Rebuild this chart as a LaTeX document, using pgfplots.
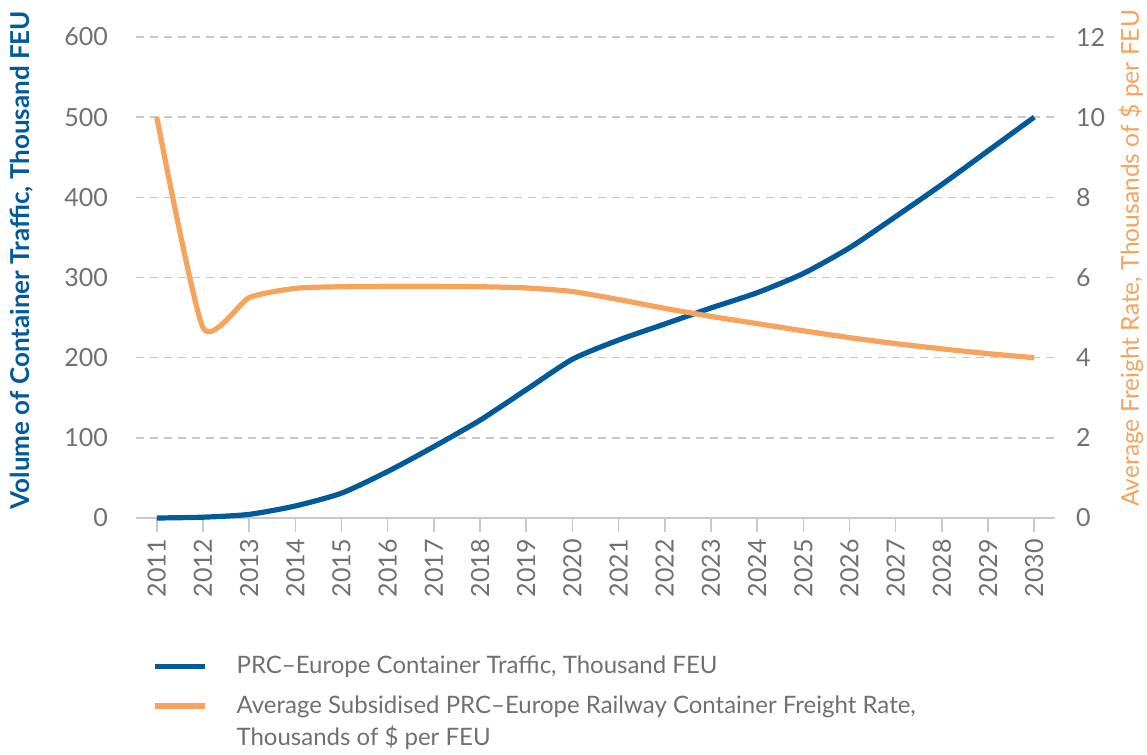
\documentclass[border=0pt]{standalone}
\usepackage{pgfplots}
\pgfplotsset{compat=1.18}
\usepackage{fontspec}
\setmainfont{Lato}
\definecolor{cblue}{HTML}{005A9C}
\definecolor{corange}{HTML}{F7A35C}
\definecolor{tgray}{HTML}{707070}
\definecolor{ggray}{HTML}{C8C8C8}
\pgfplotsset{
  common/.style={
    scale only axis, width=459.5pt, height=240.5pt,
    xmin=2010.55, xmax=2030.45,
    tick align=outside, major tick length=7pt,
    /pgf/number format/assume math mode=true,
    ticklabel style={font=\fontsize{12.5}{14}\selectfont, text=tgray},
    ytick style={draw=none},
    clip=false,
  }
}
\begin{document}
\begin{tikzpicture}
\useasboundingbox (-68pt,-118.5pt) rectangle (505.5pt,259pt);
\begin{axis}[
  common,
  ymin=0, ymax=600,
  axis x line*=bottom, axis y line*=left,
  y axis line style={draw=none},
  x axis line style={ggray, line width=0.8pt},
  xtick style={ggray, line width=0.8pt},
  xtick={2011,2012,2013,2014,2015,2016,2017,2018,2019,2020,2021,2022,2023,2024,2025,2026,2027,2028,2029,2030},
  xticklabels={2011,2012,2013,2014,2015,2016,2017,2018,2019,2020,2021,2022,2023,2024,2025,2026,2027,2028,2029,2030},
  xticklabel style={rotate=90, anchor=east},
  ytick={0,100,200,300,400,500,600},
  yticklabel style={xshift=-3.5pt},
  ymajorgrids,
  grid style={ggray, dash pattern=on 4pt off 3pt, line width=0.7pt},
  ylabel={Volume of Container Traffic, Thousand FEU},
  every axis y label/.style={at={(axis description cs:-0.124,0.536)}, rotate=90, anchor=center,
    font=\fontsize{13}{15}\selectfont\bfseries, text=cblue},
]
\addplot[cblue, line width=2.6pt, smooth, tension=0.4] coordinates {
(2011,0) (2012,1) (2013,4.5) (2014,15) (2015,31) (2016,58) (2017,89) (2018,122) (2019,160) (2020,198)
(2021,222) (2022,242) (2023,262) (2024,281) (2025,305) (2026,337) (2027,376) (2028,416) (2029,458) (2030,500)
};
\end{axis}
\begin{axis}[
  common,
  ymin=0, ymax=12,
  axis x line=none, axis y line*=right,
  y axis line style={draw=none},
  ytick={0,2,4,6,8,10,12},
  ylabel={Average Freight Rate, Thousands of \$ per FEU},
  every axis y label/.style={at={(axis description cs:1.0827,0.54)}, rotate=90, anchor=center,
    font=\fontsize{12.3}{15}\selectfont, text=corange},
  legend cell align=left,
  legend image code/.code={\draw[#1, line width=2.6pt] (0pt,0pt) -- (25pt,0pt);},
  legend style={at={(axis description cs:0.0174,-0.282)}, anchor=north west,
    draw=none, fill=none, inner sep=0pt, row sep=7.5pt, column sep=13.5pt,
    font=\fontsize{12}{16.5}\selectfont, text=tgray,
    nodes={inner sep=1pt}},
]
\addlegendimage{cblue, line width=2.6pt}
\addlegendentry{PRC–Europe Container Traffic, Thousand FEU}
\addplot[corange, line width=2.6pt, smooth, tension=0.35] coordinates {
(2011,10) (2012,4.75) (2013,5.5) (2014,5.73) (2015,5.77) (2016,5.78) (2017,5.78) (2018,5.77) (2019,5.74) (2020,5.65)
(2021,5.45) (2022,5.23) (2023,5.03) (2024,4.85) (2025,4.67) (2026,4.5) (2027,4.35) (2028,4.22) (2029,4.1) (2030,4.0)
};
\addlegendentry{\rlap{\raisebox{-16pt}[0pt][0pt]{Thousands of \$ per FEU}}Average Subsidised PRC–Europe Railway Container Freight Rate,}
\end{axis}
\end{tikzpicture}
\end{document}
